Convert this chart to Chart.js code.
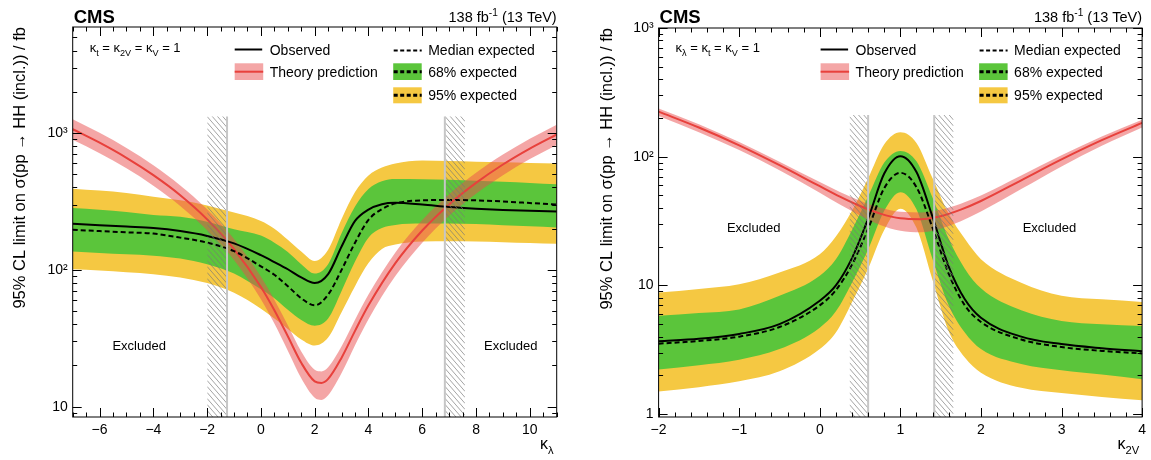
<!DOCTYPE html>
<html>
<head>
<meta charset="utf-8">
<script src="https://cdn.jsdelivr.net/npm/chart.js@4.4.1/dist/chart.umd.min.js"></script>
<style>
  html, body { margin: 0; padding: 0; background: #fff; }
  #wrap { position: relative; width: 1151px; height: 460px; }
  #left { position: absolute; left: 0; top: 0; }
  #right { position: absolute; left: 575px; top: 0; }
</style>
</head>
<body>
<div id="wrap">
  <canvas id="left" width="575" height="460"></canvas>
  <canvas id="right" width="576" height="460"></canvas>
</div>
<script>
// ---- kappa_lambda scan (left) ----
const klX = [-7, -6, -5, -4, -3, -2, -1, 0, 0.5, 1, 1.5, 2, 2.5, 3, 3.5, 4, 4.5, 5, 6, 7, 8, 9, 10, 11];
const klObserved = [217, 212, 207, 202, 192, 177, 156, 128, 114, 101, 88, 80, 93, 148, 228, 276, 302, 309, 300, 288, 280, 274, 270, 267];
const klExpected = [196, 192, 188, 184, 172, 158, 137, 106, 92, 76, 62, 55, 66, 100, 158, 232, 278, 306, 322, 324, 322, 316, 308, 300];
const klUp68 = [283, 275, 265, 252, 244, 225, 198, 178, 158, 135, 110, 94, 110, 185, 290, 390, 445, 462, 460, 455, 448, 440, 432, 422];
const klDown68 = [136, 133, 130, 127, 121, 110, 94, 72, 62, 51, 43, 39, 44, 70, 115, 172, 202, 213, 218, 218, 216, 212, 208, 204];
const klUp95 = [392, 380, 365, 342, 322, 296, 262, 228, 200, 166, 136, 116, 140, 235, 370, 490, 560, 600, 630, 625, 618, 612, 605, 600];
const klDown95 = [101, 99, 96, 93, 88, 80, 68, 52, 44, 37, 31, 28, 32, 49, 76, 112, 142, 153, 161, 162, 161, 159, 157, 155];

const klTheoX = [-7, -6, -5, -4, -3, -2, -1, 0, 0.5, 1, 1.5, 2, 2.25, 2.5, 3, 3.5, 4, 5, 6, 7, 8, 9, 10, 11];
const klTheory = [1066, 850, 659, 492, 351, 234, 142, 75, 50.7, 32.7, 20.9, 15.3, 14.9, 15.95, 22.8, 35.8, 55, 112, 194, 301, 432, 589, 770, 976];
const klTheoryUp = [1260, 1004, 778, 581, 414, 277, 168, 89, 60.5, 39.3, 25.3, 18.6, 18.1, 19.4, 27.6, 43.1, 66, 134, 231, 357, 512, 697, 910, 1152];
const klTheoryDown = [893, 713, 552, 412, 293, 195, 118, 61, 40.5, 25.6, 16.1, 11.6, 11.2, 12.1, 17.6, 28.1, 43.6, 90, 158, 249, 360, 492, 645, 818];

// ---- kappa_2V scan (right) ----
const k2vX = [-2, -1.5, -1, -0.5, 0, 0.2, 0.4, 0.6, 0.8, 1, 1.2, 1.4, 1.6, 1.8, 2, 2.5, 3, 3.5, 4];
const k2vObserved = [3.69, 3.85, 4.2, 5.0, 7.6, 10.0, 16.3, 33, 74, 101, 76, 34, 14, 7.8, 5.6, 4.0, 3.5, 3.25, 3.08];
const k2vExpected = [3.53, 3.7, 4.0, 4.75, 7.0, 9.2, 14.5, 27.5, 57, 75, 58, 28, 12.3, 7.0, 5.2, 3.8, 3.32, 3.1, 2.96];
const k2vUp68 = [5.8, 6.1, 6.5, 8.3, 11.9, 16, 27, 49, 90, 111, 92, 48, 23, 13.5, 9.5, 6.4, 5.3, 5.0, 4.83];
const k2vDown68 = [2.22, 2.4, 2.65, 3.2, 4.7, 6.3, 10.5, 19, 38, 53, 39, 16, 7.0, 4.3, 3.2, 2.45, 2.19, 2.03, 1.87];
const k2vUp95 = [8.8, 9.4, 10.2, 12.6, 17.5, 24, 38, 68, 125, 155, 128, 68, 36, 23, 16, 10.5, 8.3, 7.8, 7.45];
const k2vDown95 = [1.5, 1.62, 1.8, 2.15, 3.2, 4.3, 7.4, 13.5, 27, 39.5, 28, 11, 4.4, 2.75, 2.1, 1.6, 1.46, 1.36, 1.28];

const k2vTheoX = [-2, -1.5, -1, -0.5, 0, 0.25, 0.5, 0.75, 1, 1.25, 1.5, 1.75, 2, 2.5, 3, 3.5, 4];
const k2vTheory = [224, 168.5, 122.6, 86, 59, 49, 41.4, 36.1, 33.2, 32.7, 34.5, 38.8, 45.3, 65.6, 95.3, 134.5, 183.1];
const k2vTheoryUp = [237, 178.6, 130, 91.5, 63.5, 53.2, 45.5, 40.2, 37.3, 36.9, 38.8, 43.2, 50, 71.5, 102.5, 143.5, 194];
const k2vTheoryDown = [207, 155, 112.8, 78.5, 52.5, 42.5, 35, 29.5, 26.6, 25.9, 27.6, 31.5, 37.5, 56, 84, 121.5, 168.5];

// ---- ticks ----
const klTicks = [-6, -4, -2, 0, 2, 4, 6, 8, 10];
const k2vTicks = [-2, -1, 0, 1, 2, 3, 4];
const klYTicks = [10, 100, 1000];
const k2vYTicks = [1, 10, 100, 1000];
const yTickLabels = { 1: '1', 10: '10', 100: '10\u00B2', 1000: '10\u00B3' };

const FONT = '"Liberation Sans", Arial, Helvetica, sans-serif';
const YELLOW = '#f5c842';
const GREEN = '#5bc53b';
const RED = '#e8413c';
const RED_BAND = 'rgba(234, 78, 78, 0.5)';

function rich(ctx, parts, x, y, size, align) {
  // parts: [text, mode] with mode 0 normal, 1 subscript, 2 superscript
  const f = m => (m ? size * 0.7 : size) + 'px ' + FONT;
  let w = 0;
  parts.forEach(([t, m]) => { ctx.font = f(m); w += ctx.measureText(t).width; });
  let cx = align === 'right' ? x - w : align === 'center' ? x - w / 2 : x;
  ctx.textAlign = 'left';
  ctx.textBaseline = 'alphabetic';
  parts.forEach(([t, m]) => {
    ctx.font = f(m);
    const dy = m === 1 ? size * 0.3 : m === 2 ? -size * 0.42 : 0;
    ctx.fillText(t, cx, y + dy);
    cx += ctx.measureText(t).width;
  });
}

const panelDecor = {
  id: 'panel',
  afterDatasetsDraw(chart, args, o) {
    const { ctx, chartArea: a, scales: { x, y } } = chart;
    o.hatches.forEach(h => {
      const x0 = x.getPixelForValue(h.from), x1 = x.getPixelForValue(h.to);
      const yt = y.getPixelForValue(o.hatchTop), yb = a.bottom;
      ctx.save();
      ctx.beginPath();
      ctx.rect(x0, yt, x1 - x0, yb - yt);
      ctx.clip();
      ctx.strokeStyle = 'rgba(120, 120, 120, 0.85)';
      ctx.lineWidth = 0.8;
      ctx.beginPath();
      const w = x1 - x0;
      for (let s = yt - w * 1.2 - 6; s < yb + 6; s += 6) {
        ctx.moveTo(x0, s);
        ctx.lineTo(x1, s + w * 1.15);
      }
      ctx.stroke();
      ctx.restore();
      const xe = x.getPixelForValue(h.edge);
      ctx.save();
      ctx.strokeStyle = '#c6c6c6';
      ctx.lineWidth = 2;
      ctx.beginPath();
      ctx.moveTo(xe, yt);
      ctx.lineTo(xe, yb);
      ctx.stroke();
      ctx.restore();
    });
  },
  afterDraw(chart, args, o) {
    const { ctx, chartArea: a, scales: { x, y } } = chart;
    ctx.save();
    // frame
    ctx.strokeStyle = '#000';
    ctx.lineWidth = 1;
    ctx.strokeRect(a.left, a.top, a.right - a.left, a.bottom - a.top);
    // inward ticks on all four sides
    ctx.beginPath();
    for (let v = x.min; v <= x.max + 1e-9; v += o.xMinor) {
      const vv = Math.round(v * 100) / 100;
      const major = Math.abs(vv / o.xMajor - Math.round(vv / o.xMajor)) < 1e-6;
      const len = major ? 9 : 4.5;
      const px = Math.round(x.getPixelForValue(vv)) + 0.5;
      ctx.moveTo(px, a.bottom); ctx.lineTo(px, a.bottom - len);
      ctx.moveTo(px, a.top); ctx.lineTo(px, a.top + len);
    }
    const yt = [];
    for (let d = Math.pow(10, Math.floor(Math.log10(y.min))); d <= y.max; d *= 10) {
      for (let m = 1; m <= 9; m++) {
        const v = m * d;
        if (v >= y.min && v <= y.max) yt.push([v, m === 1]);
      }
    }
    yt.forEach(([v, major]) => {
      const len = major ? 9 : 4.5;
      const py = Math.round(y.getPixelForValue(v)) + 0.5;
      ctx.moveTo(a.left, py); ctx.lineTo(a.left + len, py);
      ctx.moveTo(a.right, py); ctx.lineTo(a.right - len, py);
    });
    ctx.stroke();

    ctx.fillStyle = '#000';
    // CMS label and luminosity
    ctx.font = 'bold 18.5px ' + FONT;
    ctx.textAlign = 'left';
    ctx.textBaseline = 'alphabetic';
    ctx.fillText('CMS', a.left + 1, 22.5);
    rich(ctx, [['138 fb', 0], ['-1', 2], [' (13 TeV)', 0]], a.right, 21.7, 14.5, 'right');

    // legend
    const L = a.left;
    rich(ctx, o.header, L + 17, 52, 13, 'left');
    ctx.lineWidth = 2;
    ctx.strokeStyle = '#000';
    ctx.beginPath(); ctx.moveTo(L + 162, 49.5); ctx.lineTo(L + 189.5, 49.5); ctx.stroke();
    ctx.fillStyle = RED_BAND;
    ctx.fillRect(L + 162, 63.3, 28.5, 16.7);
    ctx.strokeStyle = RED;
    ctx.beginPath(); ctx.moveTo(L + 162, 71.7); ctx.lineTo(L + 190.5, 71.7); ctx.stroke();
    ctx.fillStyle = YELLOW;
    ctx.fillRect(L + 320.5, 87.3, 28.5, 16);
    ctx.fillStyle = GREEN;
    ctx.fillRect(L + 320.5, 63.3, 28.5, 16.7);
    ctx.strokeStyle = '#000';
    ctx.setLineDash([4, 2.5]);
    ctx.beginPath(); ctx.moveTo(L + 321, 50.5); ctx.lineTo(L + 349, 50.5); ctx.stroke();
    ctx.lineWidth = 3;
    ctx.beginPath(); ctx.moveTo(L + 321, 71.7); ctx.lineTo(L + 349, 71.7); ctx.stroke();
    ctx.beginPath(); ctx.moveTo(L + 321, 95.3); ctx.lineTo(L + 349, 95.3); ctx.stroke();
    ctx.setLineDash([]);
    ctx.fillStyle = '#000';
    ctx.font = '14px ' + FONT;
    ctx.fillText('Observed', L + 197, 54.5);
    ctx.fillText('Theory prediction', L + 197, 77);
    ctx.fillText('Median expected', L + 355.5, 54.5);
    ctx.fillText('68% expected', L + 355.5, 77);
    ctx.fillText('95% expected', L + 355.5, 100);

    // excluded labels
    ctx.font = '13px ' + FONT;
    ctx.textAlign = 'center';
    ctx.textBaseline = 'middle';
    o.excluded.forEach(([ex, ey]) => ctx.fillText('Excluded', x.getPixelForValue(ex), y.getPixelForValue(ey)));

    // x axis title
    rich(ctx, o.xTitle, a.right - 3, 449, 16, 'right');
    ctx.restore();
  }
};

function makePanel(canvas, cfg) {
  const pts = (xs, ys) => xs.map((v, i) => ({ x: v, y: ys[i] }));
  const base = { pointRadius: 0, cubicInterpolationMode: 'monotone', borderWidth: 0 };
  new Chart(canvas, {
    type: 'line',
    data: {
      datasets: [
        { ...base, label: '95% up', data: pts(cfg.x, cfg.up95), fill: '+1', backgroundColor: YELLOW, order: 6 },
        { ...base, label: '95% down', data: pts(cfg.x, cfg.down95), fill: false, order: 6 },
        { ...base, label: '68% up', data: pts(cfg.x, cfg.up68), fill: '+1', backgroundColor: GREEN, order: 5 },
        { ...base, label: '68% down', data: pts(cfg.x, cfg.down68), fill: false, order: 5 },
        { ...base, label: 'Theory up', data: pts(cfg.theoX, cfg.theoUp), fill: '+1', backgroundColor: RED_BAND, order: 4 },
        { ...base, label: 'Theory down', data: pts(cfg.theoX, cfg.theoDown), fill: false, order: 4 },
        { ...base, label: 'Theory prediction', data: pts(cfg.theoX, cfg.theory), fill: false, borderColor: RED, borderWidth: 2, order: 3 },
        { ...base, label: 'Median expected', data: pts(cfg.x, cfg.expected), fill: false, borderColor: '#000', borderWidth: 2, borderDash: [5, 3], order: 2 },
        { ...base, label: 'Observed', data: pts(cfg.x, cfg.observed), fill: false, borderColor: '#000', borderWidth: 2, order: 1 },
      ],
    },
    options: {
      responsive: false,
      animation: false,
      devicePixelRatio: 1,
      layout: { padding: { top: cfg.top, right: cfg.right, left: 0, bottom: 0 } },
      plugins: {
        legend: { display: false },
        tooltip: { enabled: false },
        panel: cfg.decor,
      },
      scales: {
        x: {
          type: 'linear',
          min: cfg.xMin,
          max: cfg.xMax,
          grid: { display: false, drawTicks: false },
          border: { display: false },
          ticks: {
            font: { family: FONT, size: 14 },
            color: '#000',
            padding: 5,
            maxRotation: 0,
            autoSkip: false,
            callback: v => String(v).replace('-', '\u2212'),
          },
          afterBuildTicks: s => { s.ticks = cfg.xTicks.map(v => ({ value: v })); },
          afterFit: s => { s.height = 43; },
        },
        y: {
          type: 'logarithmic',
          min: cfg.yMin,
          max: cfg.yMax,
          grid: { display: false, drawTicks: false },
          border: { display: false },
          ticks: {
            font: { family: FONT, size: 14 },
            color: '#000',
            padding: 5,
            autoSkip: false,
            callback: v => yTickLabels[v] || '',
          },
          afterBuildTicks: s => { s.ticks = cfg.yTicks.map(v => ({ value: v })); },
          afterFit: s => { s.width = cfg.yWidth; },
          title: {
            display: true,
            text: '95% CL limit on \u03C3(pp \u2192 HH (incl.)) / fb',
            align: 'end',
            color: '#000',
            font: { family: FONT, size: 16.5 },
            padding: { top: cfg.titlePad, bottom: 0 },
          },
        },
      },
    },
    plugins: [panelDecor],
  });
}

document.addEventListener('DOMContentLoaded', () => {
  makePanel(document.getElementById('left'), {
    x: klX, observed: klObserved, expected: klExpected,
    up68: klUp68, down68: klDown68, up95: klUp95, down95: klDown95,
    theoX: klTheoX, theory: klTheory, theoUp: klTheoryUp, theoDown: klTheoryDown,
    xMin: -7, xMax: 11, yMin: 8.4, yMax: 5960,
    xTicks: klTicks, yTicks: klYTicks,
    top: 27, right: 18.3, yWidth: 72.7, titlePad: 11,
    decor: {
      xMinor: 0.5, xMajor: 2,
      hatchTop: 1323,
      hatches: [{ from: -2.0, to: -1.26, edge: -1.26 }, { from: 6.84, to: 7.59, edge: 6.84 }],
      excluded: [[-4.53, 27.5], [9.29, 27.5]],
      header: [['\u03BA', 0], ['t', 1], [' = \u03BA', 0], ['2V', 1], [' = \u03BA', 0], ['V', 1], [' = 1', 0]],
      xTitle: [['\u03BA', 0], ['\u03BB', 1]],
    },
  });
  makePanel(document.getElementById('right'), {
    x: k2vX, observed: k2vObserved, expected: k2vExpected,
    up68: k2vUp68, down68: k2vDown68, up95: k2vUp95, down95: k2vDown95,
    theoX: k2vTheoX, theory: k2vTheory, theoUp: k2vTheoryUp, theoDown: k2vTheoryDown,
    xMin: -2, xMax: 4, yMin: 0.95, yMax: 1000,
    xTicks: k2vTicks, yTicks: k2vYTicks,
    top: 28, right: 7.7, yWidth: 83.6, titlePad: 23,
    decor: {
      xMinor: 0.2, xMajor: 1,
      hatchTop: 211,
      hatches: [{ from: 0.37, to: 0.6, edge: 0.6 }, { from: 1.42, to: 1.66, edge: 1.42 }],
      excluded: [[-0.82, 27.5], [2.85, 27.5]],
      header: [['\u03BA', 0], ['\u03BB', 1], [' = \u03BA', 0], ['t', 1], [' = \u03BA', 0], ['V', 1], [' = 1', 0]],
      xTitle: [['\u03BA', 0], ['2V', 1]],
    },
  });
});
</script>
</body>
</html>
